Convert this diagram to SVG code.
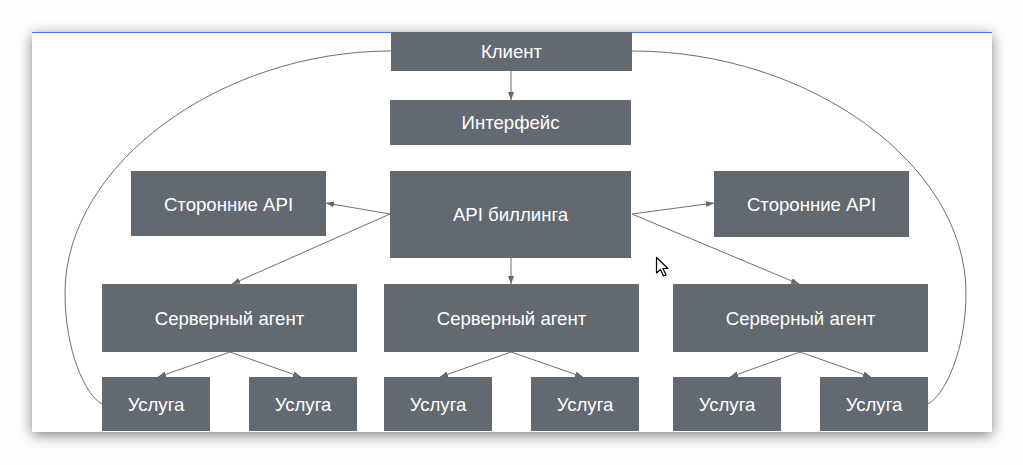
<svg xmlns="http://www.w3.org/2000/svg" width="1023" height="465" viewBox="0 0 1023 465">
<style>
.box{fill:#636970;}
.lbl{font-family:"Liberation Sans",Arial,sans-serif;font-size:18.6px;fill:#ffffff;text-anchor:middle;}
.con{stroke:#707070;stroke-width:1;fill:none;}
.arr{marker-end:url(#ah);}
</style>
<defs>
<filter id="sh" x="-10%" y="-20%" width="120%" height="140%">
<feDropShadow dx="0" dy="3" stdDeviation="7" flood-color="#000" flood-opacity="0.5"/>
</filter>
<marker id="ah" viewBox="0 0 8 6" refX="8" refY="3" markerWidth="8" markerHeight="6" markerUnits="userSpaceOnUse" orient="auto">
<path d="M0,0 L8,3 L0,6 Z" fill="#666"/>
</marker>
</defs>
<rect x="0" y="0" width="1023" height="465" fill="#fefefe"/>
<rect x="32" y="32" width="960" height="400" fill="#ffffff" filter="url(#sh)"/>
<line x1="32" y1="32.5" x2="992" y2="32.5" stroke="#3b7cf0" stroke-width="1"/>

<g id="connectors">
<path class="con" d="M391,51 C220,51 65,165 65,293 C65,350 85,395 102,404"/>
<path class="con" d="M632,51 C810,51 966,165 966,293 C966,350 945,395 928,404"/>
<line class="con arr" x1="511" y1="71" x2="511" y2="100"/>
<line class="con arr" x1="390" y1="214" x2="326" y2="203"/>
<line class="con arr" x1="390" y1="214" x2="232" y2="284"/>
<line class="con arr" x1="511" y1="258" x2="511" y2="284"/>
<line class="con arr" x1="632" y1="214" x2="714" y2="203"/>
<line class="con arr" x1="632" y1="214" x2="799" y2="284"/>
<line class="con arr" x1="230" y1="352" x2="158" y2="377"/>
<line class="con arr" x1="230" y1="352" x2="301" y2="377"/>
<line class="con arr" x1="511" y1="352" x2="440" y2="377"/>
<line class="con arr" x1="511" y1="352" x2="583" y2="377"/>
<line class="con arr" x1="800" y1="352" x2="730" y2="377"/>
<line class="con arr" x1="800" y1="352" x2="871" y2="377"/>
</g>

<g id="client"><rect class="box" x="391" y="32" width="241" height="39"/><text class="lbl" x="511.5" y="58">Клиент</text></g>
<g id="interface"><rect class="box" x="390" y="100" width="241" height="45"/><text class="lbl" x="510.5" y="129">Интерфейс</text></g>
<g id="billing"><rect class="box" x="390" y="171" width="241" height="87"/><text class="lbl" x="510.5" y="221">API биллинга</text></g>
<g id="api-left"><rect class="box" x="131" y="171" width="195" height="65"/><text class="lbl" x="228.5" y="210.5">Сторонние API</text></g>
<g id="api-right"><rect class="box" x="714" y="171" width="195" height="66"/><text class="lbl" x="811.5" y="210.5">Сторонние API</text></g>
<g id="agent-1"><rect class="box" x="102" y="284" width="255" height="68"/><text class="lbl" x="229.5" y="324.5">Серверный агент</text></g>
<g id="agent-2"><rect class="box" x="384" y="284" width="255" height="68"/><text class="lbl" x="511.5" y="324.5">Серверный агент</text></g>
<g id="agent-3"><rect class="box" x="673" y="284" width="255" height="68"/><text class="lbl" x="800.5" y="324.5">Серверный агент</text></g>
<g id="service-1"><rect class="box" x="102" y="377" width="108" height="54"/><text class="lbl" x="156" y="410.5">Услуга</text></g>
<g id="service-2"><rect class="box" x="249" y="377" width="108" height="54"/><text class="lbl" x="303" y="410.5">Услуга</text></g>
<g id="service-3"><rect class="box" x="384" y="377" width="108" height="54"/><text class="lbl" x="438" y="410.5">Услуга</text></g>
<g id="service-4"><rect class="box" x="531" y="377" width="108" height="54"/><text class="lbl" x="585" y="410.5">Услуга</text></g>
<g id="service-5"><rect class="box" x="673" y="377" width="108" height="54"/><text class="lbl" x="727" y="410.5">Услуга</text></g>
<g id="service-6"><rect class="box" x="820" y="377" width="108" height="54"/><text class="lbl" x="874" y="410.5">Услуга</text></g>

<path d="M656.5,257.5 L656.5,273 L660.5,269.5 L663.5,276 L666,275 L663,268.5 L668,268.5 Z" fill="#ffffff" stroke="#000000" stroke-width="1.2" stroke-linejoin="round"/>
</svg>
